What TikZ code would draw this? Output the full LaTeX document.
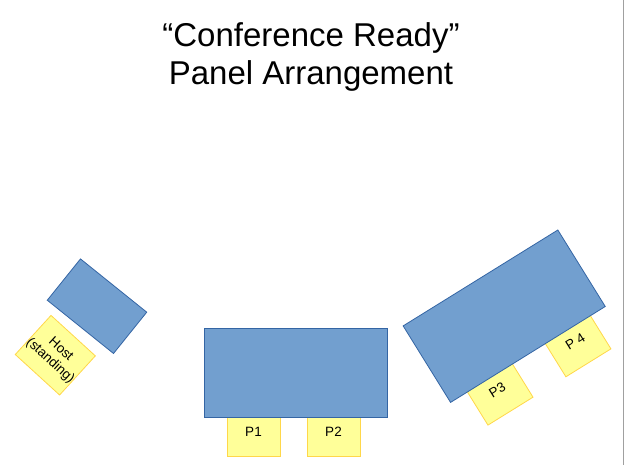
\documentclass[tikz,border=0pt]{standalone}
\usepackage{fontspec}
\setmainfont{Liberation Sans}
\definecolor{tblfill}{HTML}{729FCF}
\definecolor{tbldraw}{HTML}{3465A4}
\definecolor{seatfill}{HTML}{FFFF99}
\definecolor{seatdraw}{HTML}{FFD74A}
\definecolor{edgegray}{HTML}{A0A0A0}
\begin{document}
\begin{tikzpicture}[x=1pt,y=-1pt,
  tablebox/.style={draw=tbldraw,fill=tblfill,line width=0.8pt,inner sep=0pt,rectangle},
  seatbox/.style={draw=seatdraw,fill=seatfill,line width=0.8pt,inner sep=0pt,rectangle,
    minimum width=53pt,minimum height=50pt,font=\fontsize{13.5}{15.5}\selectfont,align=center}]
\useasboundingbox (0,0) rectangle (624,465);
\fill[white] (0,0) rectangle (624,465);
\draw[edgegray,line width=1pt] (623.5,0) -- (623.5,465);
% title
\node[font=\fontsize{33}{38}\selectfont,align=center,anchor=base] (title) at (311,85)
  {“Conference Ready”\\Panel Arrangement};
% left: host table and host seat
\node[seatbox,minimum width=53pt,minimum height=53pt,rotate=-42.4] (host) at (55.3,355.2)
  {Host\\(standing)};
\node[tablebox,minimum width=85pt,minimum height=53pt,rotate=-38.8] (hosttable) at (97,306.2) {};
% center table
\begin{scope}[shift={(295.5,372.5)}]
  \node[seatbox] (p1) at (-42,59) {P1};
  \node[seatbox] (p2) at (38,59) {P2};
  \node[tablebox,minimum width=183pt,minimum height=89pt] (centertable) at (0,0) {};
\end{scope}
% right table
\begin{scope}[shift={(504.2,316.2)},rotate=31.8,transform shape]
  \node[seatbox] (p3) at (-44.7,59) {P3};
  \node[seatbox] (p4) at (47,59) {P 4};
  \node[tablebox,minimum width=182pt,minimum height=90pt] (righttable) at (0,0) {};
\end{scope}
\end{tikzpicture}
\end{document}
